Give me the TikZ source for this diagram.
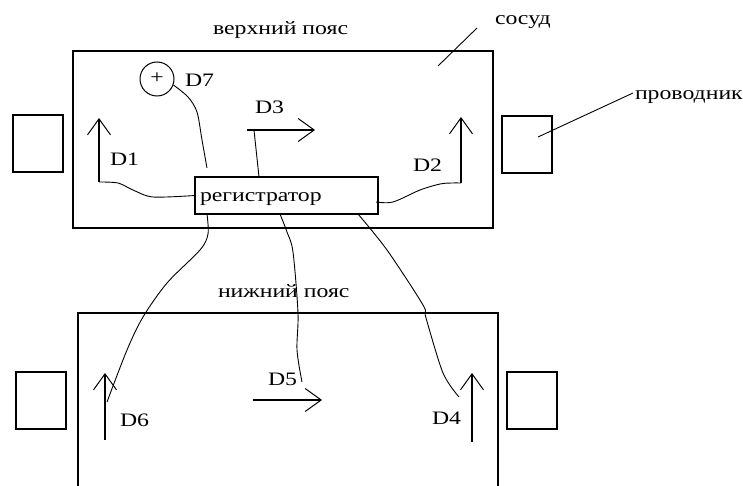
\documentclass[tikz,border=0pt]{standalone}
\usepackage{fontspec}
\usetikzlibrary{arrows.meta}
\newfontfamily\labfont[FakeStretch=1.25]{Liberation Serif}
\newcommand{\lab}{\labfont\fontsize{19}{19}\selectfont}
\tikzset{
  box/.style={draw, line width=1.3pt, inner sep=0pt, outer sep=0pt, anchor=north west},
  wire/.style={line width=0.9pt},
  vec/.style={line width=1.3pt, -{Straight Barb[length=16pt,width=23pt,line width=1pt]}},
  lbl/.style={anchor=base west, inner sep=0pt, outer sep=0pt, font=\lab},
}
\begin{document}
\begin{tikzpicture}[x=1pt, y=-1pt]
\useasboundingbox (0,0) rectangle (743,486);
\clip (0,0) rectangle (743,486);

% vessels and conductors
\node[box, minimum width=420pt, minimum height=177pt] (vtop) at (73,51) {};
\node[box, minimum width=420pt, minimum height=190pt] (vbot) at (78,313) {};
\node[box, minimum width=50pt, minimum height=57pt] (cUL) at (13,115) {};
\node[box, minimum width=50pt, minimum height=57pt] (cUR) at (502,116) {};
\node[box, minimum width=50pt, minimum height=57pt] (cLL) at (16,372) {};
\node[box, minimum width=50pt, minimum height=57pt] (cLR) at (507,372) {};

% recorder
\node[box, minimum width=183pt, minimum height=37pt] (reg) at (195,177) {};
\node[lbl] (regtxt) at (200,202) {регистратор};

% titles and leaders
\node[lbl] (ttop) at (213,35) {верхний пояс};
\node[lbl] (tbot) at (218,297) {нижний пояс};
\node[lbl] (tves) at (495,25) {сосуд};
\node[lbl] (tcond) at (635,100) {проводник};
\coordinate (ves) at (438,66);
\coordinate (vesend) at (477,28);
\draw[wire] (ves) -- (vesend);
\coordinate (cond) at (538,137);
\draw[wire] (cond) -- (633,93);

% sensor D7
\node[draw, circle, line width=1pt, minimum size=34pt, inner sep=0pt] (sens) at (157,79) {};
\node[font=\lab, inner sep=0pt] (plus) at (157,78) {+};
\node[lbl] (l7) at (185,87) {D7};
\coordinate (e7) at (207,168);
\draw[wire] (sens.-20) plot[smooth] coordinates {(sens.-20) (188,97) (197,112) (202,140) (e7)};

% D1
\coordinate (d1s) at (99,182);
\coordinate (d1e) at (99,118);
\draw[vec] (d1s) -- (d1e);
\node[lbl] (l1) at (110,166) {D1};
\draw[wire] plot[smooth] coordinates {(reg.west) (153,197) (133,190) (118,183) (d1s)};

% D2
\coordinate (d2s) at (461,183);
\coordinate (d2e) at (461,117);
\draw[vec] (d2s) -- (d2e);
\node[lbl] (l2) at (413,172) {D2};
\draw[wire] plot[smooth] coordinates {(376,202) (393,202) (420,190) (440,184) (452,183) (d2s)};

% D3
\coordinate (d3s) at (247,130);
\coordinate (d3e) at (315,130);
\coordinate (d3j) at (254,130);
\draw[vec] (d3s) -- (d3e);
\node[lbl] (l3) at (255,114) {D3};
\draw[wire] (259,177) -- (d3j);

% D6
\coordinate (d6s) at (105,440);
\coordinate (d6e) at (105,373);
\draw[vec] (d6s) -- (d6e);
\node[lbl] (l6) at (120,426) {D6};
\coordinate (e6) at (107,402);
\draw[wire] plot[smooth] coordinates {(207,214) (208,234) (200,250) (167,283) (143,317) (127,350) (e6)};

% D5
\coordinate (d5s) at (253,400);
\coordinate (d5e) at (322,400);
\draw[vec] (d5s) -- (d5e);
\node[lbl] (l5) at (268,385) {D5};
\coordinate (e5) at (302,382);
\draw[wire] plot[smooth] coordinates {(280,214) (287,232) (293,252) (298,313) (297,350) (e5)};

% D4
\coordinate (d4s) at (472,442);
\coordinate (d4e) at (472,373);
\draw[vec] (d4s) -- (d4e);
\node[lbl] (l4) at (432,424) {D4};
\coordinate (e4) at (459,397);
\draw[wire] plot[smooth] coordinates {(358,214) (387,250) (423,305) (426,318) (443,373) (e4)};
\end{tikzpicture}
\end{document}
